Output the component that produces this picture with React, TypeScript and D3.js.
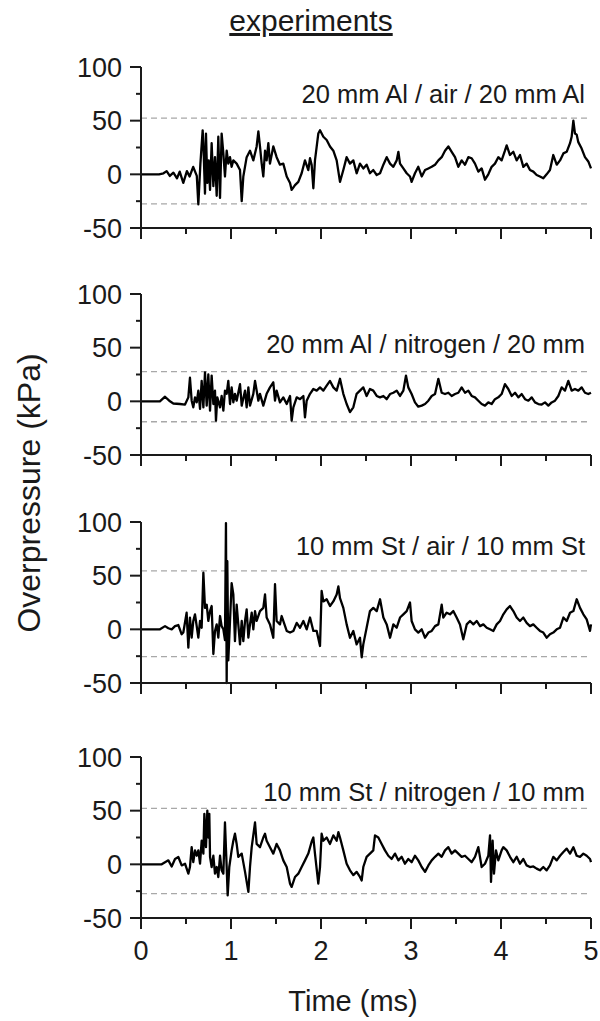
import React from "react";
import * as d3 from "d3";

// ---- data (time in ms, overpressure in kPa) ----
const xTicks = [0, 1, 2, 3, 4, 5];
const xMinorTicks = [0.5, 1.5, 2.5, 3.5, 4.5];
const yTicks = [100, 50, 0, -50];
const yMinorTicks = [75, 25, -25];

const panelLabels = [
  "20 mm Al / air / 20 mm Al",
  "20 mm Al / nitrogen / 20 mm",
  "10 mm St / air / 10 mm St",
  "10 mm St / nitrogen / 10 mm",
];
const upperLevels = [52.4, 27.7, 54.4, 52.2];
const lowerLevels = [-27.5, -19, -25.5, -27.3];

const alAir: [number, number][] = [
  [0, 0], [0.2, 0], [0.25, 1], [0.285, 3], [0.32, -1.5], [0.36, 1.5], [0.4, -3.7], [0.43, 2.5], [0.47, -8], [0.51, 3],
  [0.54, -2], [0.58, 7], [0.62, -1.5], [0.637, -28], [0.66, 10], [0.685, 41], [0.693, 29], [0.711, -18], [0.722, 38],
  [0.737, -8], [0.752, 13], [0.767, -14.5], [0.785, 29], [0.804, -11], [0.822, 16], [0.841, -20], [0.859, 35],
  [0.878, -22], [0.896, 38], [0.915, 19.5], [0.933, -2], [0.952, 22], [0.97, 10], [0.989, 16], [1.007, 7], [1.026, 13],
  [1.063, 10], [1.1, 4], [1.119, -25], [1.137, -2], [1.174, 16], [1.211, 22], [1.248, 13], [1.285, 26], [1.304, 40],
  [1.322, 26], [1.341, 10], [1.359, -2], [1.378, 22], [1.396, 13], [1.415, 29], [1.433, 10], [1.47, 26], [1.507, 16],
  [1.544, 9], [1.581, 10], [1.619, -2], [1.656, -8], [1.674, -14.5], [1.711, -10], [1.748, -7], [1.785, 1], [1.822, 13],
  [1.859, 4], [1.878, 15], [1.896, 9], [1.915, -13], [1.933, 13], [1.97, 38], [1.989, 41], [2.026, 35], [2.063, 32],
  [2.1, 26], [2.137, 22], [2.174, 13], [2.211, -7], [2.248, 4], [2.285, 16], [2.322, 10], [2.359, 13], [2.396, 1],
  [2.433, 10], [2.47, 5.5], [2.507, 9], [2.544, 1], [2.581, 4], [2.619, -0.6], [2.656, 1], [2.693, 9], [2.73, 16],
  [2.767, 10], [2.804, 7], [2.841, 13], [2.86, 21], [2.878, 10], [2.915, 5.5], [2.952, 1], [2.989, -2], [3.007, -7],
  [3.044, 1], [3.081, 7], [3.119, -2], [3.156, 4], [3.193, 5.5], [3.23, 7], [3.267, 9], [3.304, 13], [3.341, 16],
  [3.378, 22], [3.415, 26], [3.452, 21], [3.489, 16], [3.526, 7], [3.563, 13], [3.6, 9], [3.637, 16], [3.674, 15],
  [3.711, 10], [3.748, 2.5], [3.785, 5.5], [3.822, -5], [3.859, 0], [3.896, 7], [3.933, 10], [3.97, 16], [4.007, 13],
  [4.044, 22], [4.063, 27], [4.1, 18], [4.137, 21], [4.174, 13], [4.211, 18], [4.248, 7], [4.285, 10], [4.322, 4],
  [4.359, 2.5], [4.396, -0.6], [4.433, -2], [4.47, -3.7], [4.507, 0], [4.544, 4], [4.581, 18], [4.619, 9], [4.656, 13],
  [4.693, 19.5], [4.73, 21], [4.767, 29], [4.785, 35], [4.804, 50], [4.822, 38], [4.841, 37], [4.859, 30], [4.896, 24],
  [4.933, 16], [4.97, 12], [5.0, 5.5],
];

const alNitrogen: [number, number][] = [
  [0, 0], [0.21, 0], [0.267, 4.3], [0.322, 0], [0.359, -2], [0.433, -2.5], [0.489, -3], [0.526, 3.7], [0.544, 22],
  [0.563, 0.6], [0.581, -5.6], [0.6, 3.7], [0.619, -1], [0.637, 10], [0.656, -7], [0.674, 19], [0.693, -5.6], [0.711, 27],
  [0.73, -4], [0.748, 25], [0.767, -8.7], [0.785, 24], [0.804, -2.5], [0.822, 10], [0.833, -18], [0.848, 3.7],
  [0.878, -5.6], [0.896, 5], [0.915, -8.7], [0.933, 10], [0.952, 7], [0.97, 19], [0.989, -2.5], [1.007, 13], [1.026, -1],
  [1.044, 7], [1.063, 0.6], [1.1, 16], [1.119, -4], [1.156, 10], [1.174, -5.6], [1.193, 13], [1.211, -4], [1.248, 7],
  [1.267, 19], [1.304, 0.6], [1.322, 7], [1.359, -4], [1.396, 7], [1.433, 13], [1.47, 17.7], [1.489, 0.6], [1.507, 10],
  [1.544, -1], [1.581, 3.7], [1.619, -2.5], [1.656, 5], [1.674, -18], [1.693, -5.6], [1.73, 3.7], [1.767, 2], [1.804, 5],
  [1.822, -15], [1.841, 0.6], [1.878, 7], [1.915, 11.5], [1.952, 10], [1.989, 13], [2.026, 10], [2.063, 14.6], [2.1, 19],
  [2.137, 13], [2.174, 10], [2.211, 21], [2.248, 7], [2.285, -2.5], [2.322, -10], [2.359, -5.6], [2.396, 7], [2.433, 10],
  [2.47, 13], [2.507, 5], [2.544, 11.5], [2.581, 10], [2.619, 5], [2.656, 3.7], [2.693, 5], [2.73, 2], [2.767, 6.8],
  [2.804, 8], [2.841, 10], [2.878, 5], [2.915, 10], [2.944, 24], [2.97, 13], [3.007, 6.8], [3.044, -1], [3.081, -5],
  [3.119, -4], [3.156, -2.5], [3.193, 0.6], [3.23, 5], [3.267, 6.8], [3.304, 21], [3.341, 8], [3.378, 6.8], [3.415, 8],
  [3.452, 5], [3.489, 6.8], [3.526, 8], [3.563, 13], [3.6, 8], [3.637, 10], [3.674, 5], [3.711, 3.7], [3.748, 0.6],
  [3.785, -2.5], [3.822, -4], [3.859, -1], [3.896, -2.5], [3.933, 2], [3.97, 3.7], [4.007, 6.8], [4.044, 16],
  [4.081, 11.5], [4.119, 5], [4.156, 8], [4.193, 3.7], [4.23, 6.8], [4.267, 2], [4.304, 0.6], [4.341, 3.7], [4.378, -1],
  [4.415, -2.5], [4.452, -3], [4.489, -1], [4.526, -4], [4.563, -1], [4.6, 0.6], [4.637, 5], [4.674, 13], [4.711, 10],
  [4.748, 19], [4.785, 10], [4.822, 11.5], [4.859, 10], [4.896, 13], [4.933, 8], [4.97, 6.8], [5.0, 8],
];

const stAir: [number, number][] = [
  [0, 0], [0.211, 0], [0.267, 3], [0.304, 1], [0.341, 0], [0.378, 3], [0.415, 4], [0.452, -4.6], [0.47, -3], [0.507, 15.5],
  [0.526, -17], [0.544, 11], [0.563, -7.8], [0.581, 7.8], [0.6, 14], [0.619, 3], [0.637, -7.8], [0.656, 7.8], [0.674, 1.5],
  [0.693, 52.7], [0.711, 20], [0.73, 23], [0.748, 7.8], [0.767, 17], [0.785, 21.7], [0.804, -23], [0.822, -1.5],
  [0.841, 4.6], [0.859, -7.8], [0.878, 12.4], [0.896, 3], [0.915, 0], [0.933, -10], [0.944, 99], [0.952, -50],
  [0.959, 63.5], [0.97, -29], [0.989, 7.8], [1.007, 43], [1.026, 32.5], [1.044, -11], [1.063, 23], [1.081, 4.6],
  [1.1, -14], [1.119, 7.8], [1.137, -11], [1.156, 7.8], [1.174, 18.6], [1.193, -7.8], [1.211, 4.6], [1.23, 15.5],
  [1.248, 0], [1.267, 17], [1.285, 7.8], [1.322, 17], [1.359, 20], [1.378, 32.5], [1.396, 11], [1.433, 4.6],
  [1.47, -7.8], [1.489, 42], [1.507, 7.8], [1.544, 4.6], [1.563, 12.4], [1.581, 7.8], [1.619, -1.5], [1.656, -3],
  [1.693, -1.5], [1.73, 6], [1.767, 1.5], [1.804, 7.8], [1.841, 0], [1.878, 11], [1.915, -1.5], [1.952, -1.5],
  [1.989, -15.5], [2.007, 35.7], [2.026, 26], [2.063, 28], [2.1, 21.7], [2.137, 26], [2.174, 32.5], [2.193, 40],
  [2.211, 29], [2.248, 20], [2.285, 4.6], [2.322, -7.8], [2.359, -1.5], [2.396, -14], [2.433, -7.8], [2.452, -26],
  [2.47, -14], [2.507, 1.5], [2.544, 17], [2.581, 20], [2.619, 17], [2.656, 28], [2.693, 11], [2.73, 4.6], [2.767, -7.8],
  [2.804, 4.6], [2.841, 1.5], [2.878, 11], [2.915, 14], [2.952, 17], [2.989, 25], [3.007, 7.8], [3.044, 0], [3.081, -3],
  [3.119, 0], [3.156, -7.8], [3.193, -3], [3.23, -1.5], [3.267, 3], [3.304, 4.6], [3.341, 23], [3.359, 11], [3.396, 15.5],
  [3.433, 14], [3.47, 17], [3.507, 11], [3.544, 4.6], [3.581, -9.3], [3.619, 4.6], [3.656, 7.8], [3.693, 4.6], [3.73, 7.8],
  [3.767, 3], [3.804, 4.6], [3.841, 1.5], [3.878, 0], [3.915, -1.5], [3.952, 4.6], [3.989, 7.8], [4.026, 14], [4.063, 18.6],
  [4.1, 21.7], [4.137, 17], [4.174, 11], [4.211, 7.8], [4.248, 11], [4.285, 6], [4.322, 3], [4.359, 4.6], [4.396, 1.5],
  [4.433, -1.5], [4.47, -3], [4.507, -7.8], [4.544, -4.6], [4.581, -3], [4.619, 0], [4.656, 1.5], [4.693, 11], [4.73, 7.8],
  [4.767, 15.5], [4.804, 17], [4.841, 28], [4.878, 20], [4.915, 14], [4.952, 9.3], [4.989, -1.5], [5.0, 4.6],
];

const stNitrogen: [number, number][] = [
  [0, 0], [0.23, 0], [0.267, 2], [0.304, 3.7], [0.341, -2], [0.378, 5], [0.415, 6.8], [0.452, -1], [0.489, 0.6],
  [0.526, -8.7], [0.544, -2.5], [0.563, 16], [0.581, 2], [0.6, 13], [0.619, 8], [0.637, 13], [0.656, 0.6], [0.674, 22],
  [0.693, 10], [0.704, 47], [0.722, 16], [0.737, 50], [0.748, 25], [0.759, 47], [0.767, 7], [0.785, -2.5], [0.804, 8],
  [0.822, -8.7], [0.841, -2.5], [0.859, -11.8], [0.878, 8], [0.896, -5.6], [0.915, -8.7], [0.933, 39], [0.952, -2.5],
  [0.963, -29], [0.981, -2.5], [1.007, 13], [1.026, 22], [1.044, 28.5], [1.063, 19], [1.081, 7], [1.119, 10], [1.156, -7],
  [1.193, -25.7], [1.211, -2.5], [1.23, 16], [1.267, 39], [1.285, 19], [1.322, 16], [1.359, 25], [1.378, 28.5],
  [1.396, 22], [1.433, 16], [1.47, 10], [1.507, 19], [1.544, 13], [1.581, 3.7], [1.619, -2.5], [1.656, -18], [1.674, -21],
  [1.711, -11.8], [1.748, -8.7], [1.785, -2.5], [1.822, 3.7], [1.859, 10], [1.896, 21], [1.915, 25], [1.933, 10],
  [1.97, -18], [1.989, -2.5], [2.007, 28.5], [2.026, 22], [2.063, 25], [2.1, 19], [2.137, 27], [2.174, 22], [2.193, 30],
  [2.211, 25], [2.248, 13], [2.285, 0.6], [2.322, -5.6], [2.359, -10], [2.396, -7], [2.433, -11.8], [2.452, -15],
  [2.47, -2.5], [2.507, 7], [2.544, 10], [2.581, 13], [2.6, 27], [2.637, 25], [2.674, 19], [2.711, 13], [2.748, 8],
  [2.785, 5], [2.822, 10], [2.859, 3.7], [2.896, 7], [2.933, 0.6], [2.97, 5], [3.007, 2], [3.044, 8], [3.081, 3.7],
  [3.119, -2.5], [3.156, -7], [3.193, -1], [3.23, 3.7], [3.267, 7], [3.304, 10], [3.341, 7], [3.378, 13], [3.415, 16],
  [3.452, 10], [3.489, 13], [3.526, 10], [3.563, 7], [3.6, 8], [3.637, 5], [3.674, 2], [3.711, 7], [3.748, 16],
  [3.785, -2.5], [3.822, 0.6], [3.859, 8], [3.878, 27], [3.889, -16.4], [3.907, 22], [3.922, -8.7], [3.944, 13],
  [3.97, 3.7], [4.007, 13], [4.026, 16], [4.063, 13], [4.1, 7], [4.137, 2], [4.174, 7], [4.211, 0.6], [4.248, 5],
  [4.285, -1], [4.322, -2.5], [4.359, -2], [4.396, -4], [4.433, -5.6], [4.47, -2.5], [4.507, -5.6], [4.544, -1],
  [4.581, 7], [4.619, 3.7], [4.656, 8], [4.693, 11.5], [4.73, 14.6], [4.767, 10], [4.804, 16], [4.841, 8], [4.878, 7],
  [4.915, 10], [4.952, 8], [4.989, 5], [5.0, 2],
];

const seriesList = [alAir, alNitrogen, stAir, stNitrogen];

// ---- layout ----
const W = 600;
const H = 1021;
const plotLeft = 141;
const plotRight = 591;
const panelTops = [67, 294, 522, 757];
const panelHeight = 161;
const labelOffsets = [36, 59, 33, 44];
const FONT = "'Liberation Sans', Arial, Helvetica, sans-serif";
const INK = "#1a1a1a";

export default function App() {
  const x = d3.scaleLinear().domain([0, 5]).range([plotLeft, plotRight]);

  return (
    <svg
      width={W}
      height={H}
      viewBox={`0 0 ${W} ${H}`}
      style={{ position: "absolute", left: 0, top: 0, background: "#fff" }}
      fontFamily={FONT}
    >
      <rect x={0} y={0} width={W} height={H} fill="#fff" />
      <text
        x={311}
        y={31}
        textAnchor="middle"
        fontSize={30}
        fill={INK}
        style={{ textDecoration: "underline" }}
      >
        experiments
      </text>

      {seriesList.map((data, i) => {
        const top = panelTops[i];
        const y = d3.scaleLinear().domain([-50, 100]).range([top + panelHeight, top]);
        const line = d3
          .line<[number, number]>()
          .x((d) => x(d[0]))
          .y((d) => y(d[1]));
        const isBottom = i === seriesList.length - 1;
        return (
          <g key={i}>
            {[upperLevels[i], lowerLevels[i]].map((lv, k) => (
              <line
                key={k}
                x1={x(0)}
                x2={x(5)}
                y1={y(lv)}
                y2={y(lv)}
                stroke="#a8a8a8"
                strokeWidth={1.3}
                strokeDasharray="6 4"
              />
            ))}
            <path d={line(data) || ""} fill="none" stroke="#000" strokeWidth={2.3} strokeLinejoin="round" />
            <line x1={x(0)} x2={x(0)} y1={y(100)} y2={y(-50)} stroke={INK} strokeWidth={2} />
            {yTicks.map((t) => (
              <g key={"yt" + t}>
                <line x1={x(0) - 11} x2={x(0)} y1={y(t)} y2={y(t)} stroke={INK} strokeWidth={2} />
                <text x={x(0) - 19} y={y(t)} dy="0.36em" textAnchor="end" fontSize={27} fill={INK}>
                  {t}
                </text>
              </g>
            ))}
            {yMinorTicks.map((t) => (
              <line key={"ym" + t} x1={x(0) - 5} x2={x(0)} y1={y(t)} y2={y(t)} stroke={INK} strokeWidth={2} />
            ))}
            <line x1={x(0)} x2={x(5)} y1={y(-50)} y2={y(-50)} stroke={INK} strokeWidth={2} />
            {xTicks.map((t) => (
              <g key={"xt" + t}>
                <line x1={x(t)} x2={x(t)} y1={y(-50)} y2={y(-50) + 11} stroke={INK} strokeWidth={2} />
                {isBottom && (
                  <text x={x(t)} y={y(-50) + 42} textAnchor="middle" fontSize={27} fill={INK}>
                    {t}
                  </text>
                )}
              </g>
            ))}
            {xMinorTicks.map((t) => (
              <line key={"xm" + t} x1={x(t)} x2={x(t)} y1={y(-50)} y2={y(-50) + 6} stroke={INK} strokeWidth={2} />
            ))}
            <text x={585} y={top + labelOffsets[i]} textAnchor="end" fontSize={25.5} fill={INK}>
              {panelLabels[i]}
            </text>
          </g>
        );
      })}

      <text x={353} y={1011} textAnchor="middle" fontSize={29} fill={INK}>
        Time (ms)
      </text>
      <text
        transform="translate(40,493) rotate(-90)"
        textAnchor="middle"
        fontSize={32}
        fill={INK}
      >
        Overpressure (kPa)
      </text>
    </svg>
  );
}
